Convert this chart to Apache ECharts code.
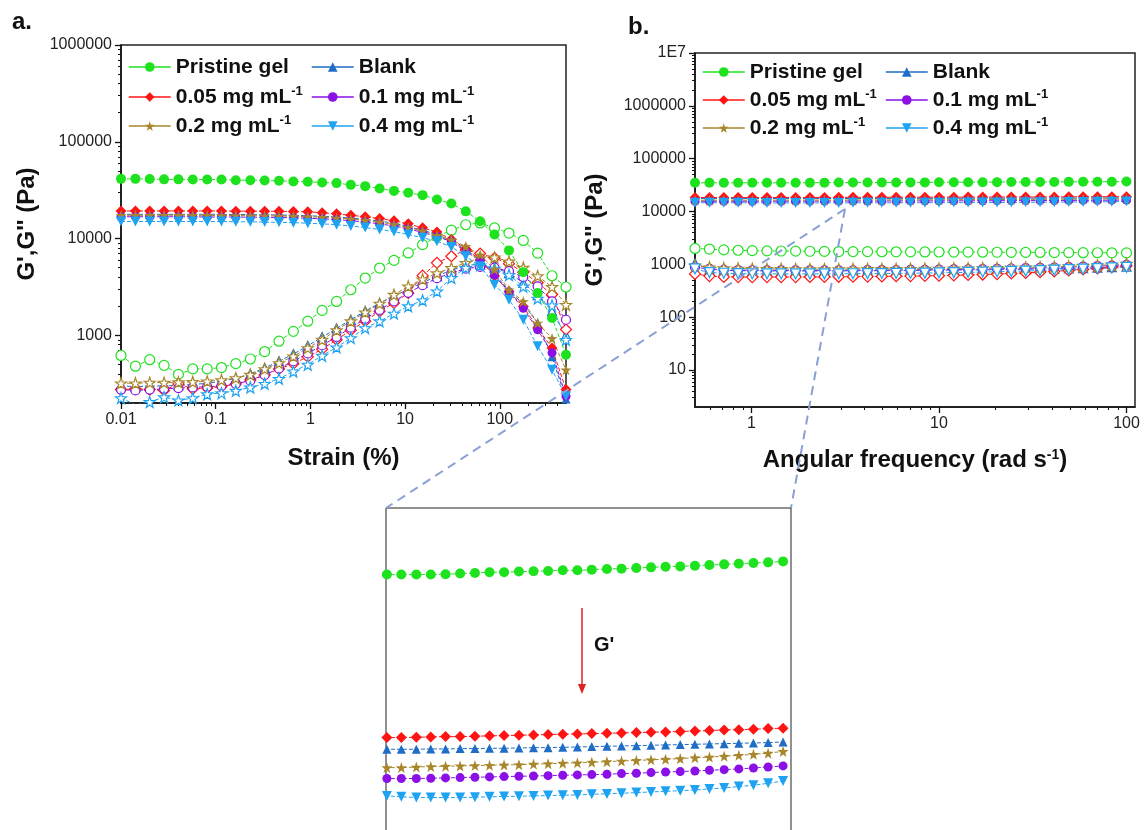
<!DOCTYPE html>
<html>
<head>
<meta charset="utf-8">
<script src="https://cdn.jsdelivr.net/npm/echarts@6/dist/echarts.min.js"></script>
<style>
  html, body { margin: 0; padding: 0; background: #fff; }
  #chart { width: 1144px; height: 830px; }
</style>
</head>
<body>
<div id="chart"></div>
<script>
// ---------- data ----------
const sampleNames = ['Pristine gel', 'Blank', '0.05 mg mL-1', '0.1 mg mL-1', '0.2 mg mL-1', '0.4 mg mL-1'];

// amplitude sweep: strain (%)
const strainPct = [0.01, 0.0142, 0.0201, 0.0285, 0.0404, 0.0573, 0.0813, 0.115, 0.163, 0.232, 0.329, 0.466, 0.661, 0.938, 1.33, 1.89,
  2.67, 3.79, 5.38, 7.63, 10.8, 15.3, 21.7, 30.8, 43.7, 62.0, 87.9, 125, 177, 251, 356, 500];

// storage modulus G' (Pa) vs strain
const strainGpPristine = [41400, 41400, 41200, 40900, 40900, 40800, 40700, 40700, 40100, 40100, 39800, 39500, 38900, 38600, 38000, 37400,
  35900, 34800, 32900, 31100, 29700, 28100, 25300, 23000, 19100, 15100, 11000, 7550, 4500, 2740, 1510, 630];
const strainGpBlank = [17800, 17800, 17800, 17800, 17800, 17800, 17800, 17800, 17700, 17700, 17600, 17500, 17400, 17200, 17000, 16700,
  16300, 15800, 15200, 14400, 13300, 12200, 11000, 9500, 7600, 6100, 4300, 2900, 2100, 1350, 600, 220];
const strainGpC005 = [19300, 19300, 19300, 19300, 19300, 19300, 19300, 19300, 19200, 19200, 19200, 19100, 19000, 18900, 18500, 18000,
  17400, 16800, 16100, 15300, 14200, 12900, 11700, 9800, 7900, 6000, 4100, 2840, 1990, 1190, 740, 275];
const strainGpC01 = [16800, 16800, 16800, 16800, 16800, 16800, 16700, 16700, 16700, 16600, 16600, 16500, 16400, 16200, 16000, 15700,
  15300, 14800, 14200, 13500, 12600, 11600, 10500, 9300, 7400, 5900, 4200, 2800, 1900, 1140, 660, 235];
const strainGpC02 = [17400, 17400, 17400, 17400, 17400, 17400, 17400, 17300, 17300, 17200, 17200, 17100, 17000, 16800, 16600, 16300,
  15900, 15400, 14800, 14000, 13000, 12000, 10800, 9700, 8300, 6800, 4800, 2950, 2240, 1340, 930, 440];
const strainGpC04 = [15000, 15000, 15000, 15000, 15000, 15000, 15000, 15000, 14900, 14900, 14800, 14700, 14600, 14400, 14200, 13900,
  13500, 13000, 12400, 11800, 11000, 10200, 9400, 8200, 6560, 5180, 3340, 2330, 1450, 770, 440, 235];

// loss modulus G'' (Pa) vs strain
const strainGppPristine = [620, 480, 560, 490, 395, 450, 450, 465, 510, 570, 680, 870, 1100, 1400, 1810, 2240,
  2960, 3910, 4960, 5950, 7100, 8650, 10500, 12200, 13900, 14500, 12900, 11400, 9560, 7080, 4130, 3160];
const strainGppBlank = [300, 295, 300, 300, 305, 310, 320, 335, 360, 400, 460, 540, 640, 780, 960, 1180,
  1450, 1780, 2150, 2550, 3000, 3500, 4100, 4700, 5300, 5400, 5000, 4400, 3500, 2600, 1780, 1000];
const strainGppC005 = [275, 280, 275, 270, 315, 280, 285, 295, 315, 345, 390, 450, 510, 600, 720, 900,
  1130, 1400, 1770, 2160, 2740, 4140, 5610, 6570, 7600, 7000, 6300, 5500, 4500, 3500, 2640, 1150];
const strainGppC01 = [275, 270, 275, 280, 285, 290, 295, 300, 315, 340, 390, 455, 540, 650, 790, 960,
  1200, 1480, 1830, 2250, 2750, 3300, 3900, 4400, 4900, 5100, 5000, 4600, 4000, 3200, 2240, 1450];
const strainGppC02 = [320, 320, 325, 325, 328, 330, 335, 345, 362, 392, 449, 518, 607, 740, 902, 1130,
  1400, 1730, 2130, 2630, 3210, 3800, 4400, 4980, 5610, 6300, 6400, 5800, 5000, 4100, 3170, 2070];
const strainGppC04 = [225, 192, 205, 230, 213, 225, 247, 253, 268, 290, 316, 356, 424, 498, 617, 752,
  938, 1190, 1400, 1680, 2000, 2300, 2850, 3920, 4980, 5300, 4900, 4200, 3200, 2400, 2040, 900];

// frequency sweep: angular frequency (rad/s)
const freqRad = [0.5, 0.597, 0.712, 0.849, 1.01, 1.21, 1.44, 1.72, 2.05, 2.45, 2.92, 3.48, 4.16, 4.96, 5.91, 7.05,
  8.41, 10.0, 12.0, 14.3, 17.1, 20.4, 24.3, 29.0, 34.6, 41.2, 49.2, 58.7, 70.0, 83.5, 100];

// G' (Pa) vs frequency
const freqGpPristine = [34950, 35000, 35000, 35000, 35000, 35000, 35000, 35050, 35140, 35230, 35320, 35320, 35420, 35460, 35510, 35600,
  35600, 35690, 35780, 35830, 35920, 36010, 36110, 36150, 36250, 36350, 36440, 36540, 36640, 36730, 36870];
const freqGpBlank = [17570, 17580, 17585, 17585, 17585, 17585, 17608, 17608, 17631, 17631, 17654, 17654, 17677, 17700, 17700, 17724,
  17747, 17770, 17793, 17817, 17840, 17864, 17887, 17911, 17934, 17958, 17981, 18005, 18029, 18053, 18100];
const freqGpC005 = [18400, 18400, 18410, 18415, 18415, 18440, 18460, 18485, 18485, 18510, 18540, 18560, 18585, 18610, 18635, 18660,
  18680, 18705, 18730, 18755, 18780, 18805, 18830, 18855, 18905, 18930, 18980, 19000, 19030, 19080, 19105];
const freqGpC01 = [15650, 15660, 15670, 15670, 15670, 15670, 15690, 15710, 15730, 15750, 15770, 15790, 15810, 15830, 15850, 15875,
  15895, 15915, 15935, 15980, 16000, 16040, 16080, 16105, 16145, 16190, 16230, 16275, 16335, 16400, 16470];
const freqGpC02 = [16340, 16350, 16360, 16360, 16360, 16395, 16430, 16450, 16470, 16490, 16510, 16530, 16550, 16590, 16610, 16650,
  16670, 16710, 16750, 16790, 16830, 16870, 16910, 16950, 17010, 17050, 17110, 17175, 17240, 17320, 17440];
const freqGpC04 = [14700, 14670, 14650, 14635, 14580, 14540, 14540, 14540, 14540, 14560, 14580, 14600, 14615, 14635, 14655, 14675,
  14690, 14730, 14750, 14785, 14825, 14865, 14900, 14940, 14980, 15040, 15100, 15180, 15260, 15380, 15520];

// G'' (Pa) vs frequency
const freqGppPristine = [2000, 1950, 1880, 1850, 1820, 1800, 1790, 1780, 1770, 1760, 1750, 1745, 1740, 1735, 1730, 1725,
  1720, 1715, 1710, 1705, 1700, 1695, 1690, 1685, 1680, 1675, 1670, 1665, 1660, 1655, 1650];
const freqGppBlank = [1050, 800, 770, 760, 755, 752, 750, 750, 750, 752, 754, 756, 758, 760, 763, 766,
  770, 774, 778, 783, 788, 794, 800, 808, 816, 826, 838, 852, 868, 886, 905];
const freqGppC005 = [660, 600, 580, 575, 575, 575, 575, 575, 578, 580, 582, 585, 588, 592, 596, 600,
  606, 612, 620, 630, 642, 656, 672, 690, 712, 738, 768, 802, 840, 885, 940];
const freqGppC01 = [880, 820, 790, 780, 775, 772, 770, 770, 770, 771, 772, 774, 776, 779, 782, 786,
  790, 795, 801, 808, 816, 825, 835, 846, 858, 872, 888, 906, 926, 950, 980];
const freqGppC02 = [950, 880, 850, 835, 825, 820, 818, 816, 815, 815, 816, 817, 818, 820, 823, 826,
  830, 834, 839, 845, 852, 860, 869, 879, 890, 903, 918, 935, 955, 985, 1030];
const freqGppC04 = [820, 700, 680, 670, 665, 662, 660, 660, 660, 661, 663, 665, 668, 671, 675, 680,
  685, 691, 698, 706, 715, 725, 736, 748, 762, 778, 795, 814, 834, 855, 880];

// labelled (major) tick values
const strainTicks = [0.01, 0.1, 1, 10, 100];
const freqTicks = [1, 10, 100];
const modulusTicksA = [1000, 10000, 100000, 1000000];
const modulusTicksB = [10, 100, 1000, 10000, 100000, 1000000, 10000000];

// ---------- styling ----------
const FONT = '"Liberation Sans", Arial, Helvetica, sans-serif';
const STAR = 'path://M0,-10L2.35,-3.24L9.51,-3.09L3.8,1.24L5.88,8.09L0,4L-5.88,8.09L-3.8,1.24L-9.51,-3.09L-2.35,-3.24Z';
const colors = {
  'Pristine gel': '#1fe21f',
  'Blank': '#1f6dc4',
  '0.05 mg mL-1': '#ff1414',
  '0.1 mg mL-1': '#8a10e6',
  '0.2 mg mL-1': '#a8872c',
  '0.4 mg mL-1': '#1ea3f2'
};
const filledShape = {
  'Pristine gel': {symbol: 'circle', size: 10},
  'Blank': {symbol: 'triangle', size: 9},
  '0.05 mg mL-1': {symbol: 'diamond', size: 11},
  '0.1 mg mL-1': {symbol: 'circle', size: 9},
  '0.2 mg mL-1': {symbol: STAR, size: 11},
  '0.4 mg mL-1': {symbol: 'triangle', size: 10, rotate: 180}
};
const hollowShapeStrain = {
  'Pristine gel': {symbol: 'circle', size: 10},
  'Blank': {symbol: 'triangle', size: 9},
  '0.05 mg mL-1': {symbol: 'diamond', size: 11},
  '0.1 mg mL-1': {symbol: 'circle', size: 9},
  '0.2 mg mL-1': {symbol: STAR, size: 11},
  '0.4 mg mL-1': {symbol: STAR, size: 11}
};
const hollowShapeFreq = {
  'Pristine gel': {symbol: 'circle', size: 10},
  'Blank': {symbol: 'triangle', size: 9},
  '0.05 mg mL-1': {symbol: 'diamond', size: 11},
  '0.1 mg mL-1': {symbol: 'circle', size: 9},
  '0.2 mg mL-1': {symbol: STAR, size: 11},
  '0.4 mg mL-1': {symbol: 'triangle', size: 10, rotate: 180}
};

const strainGp = [strainGpPristine, strainGpBlank, strainGpC005, strainGpC01, strainGpC02, strainGpC04];
const strainGpp = [strainGppPristine, strainGppBlank, strainGppC005, strainGppC01, strainGppC02, strainGppC04];
const freqGp = [freqGpPristine, freqGpBlank, freqGpC005, freqGpC01, freqGpC02, freqGpC04];
const freqGpp = [freqGppPristine, freqGppBlank, freqGppC005, freqGppC01, freqGppC02, freqGppC04];

function curve(sample, seriesName, xs, ys, axisIndex, shape, hollow) {
  const c = colors[sample];
  return {
    type: 'line',
    name: seriesName,
    xAxisIndex: axisIndex,
    yAxisIndex: axisIndex,
    data: xs.map((x, i) => [x, ys[i]]),
    symbol: shape.symbol,
    symbolSize: shape.size,
    symbolRotate: shape.rotate || 0,
    showAllSymbol: true,
    lineStyle: {color: c, width: 1, type: [4, 2]},
    itemStyle: hollow
      ? {color: '#ffffff', borderColor: c, borderWidth: 1.2}
      : {color: c, borderWidth: 0},
    emphasis: {disabled: true},
    silent: true,
    animation: false
  };
}

const series = [];
// strain sweep: G'' first so the filled G' markers sit on top
sampleNames.forEach((s, k) => series.push(curve(s, s + ' G\u2033 strain', strainPct, strainGpp[k], 0, hollowShapeStrain[s], true)));
sampleNames.forEach((s, k) => series.push(curve(s, s, strainPct, strainGp[k], 0, filledShape[s], false)));
// frequency sweep
sampleNames.forEach((s, k) => series.push(curve(s, s + ' G\u2033 freq', freqRad, freqGpp[k], 2, hollowShapeFreq[s], true)));
sampleNames.forEach((s, k) => series.push(curve(s, s, freqRad, freqGp[k], 2, filledShape[s], false)));
// magnified view of G' from the frequency sweep
sampleNames.forEach((s, k) => series.push(curve(s, s + ' G\u2032 detail', freqRad, freqGp[k], 4, filledShape[s], false)));

function minorLogTicks(lo, hi) {
  const out = [];
  for (let e = Math.floor(Math.log10(lo)); e <= Math.ceil(Math.log10(hi)); e++) {
    for (let m = 2; m <= 9; m++) {
      const v = +(m * Math.pow(10, e)).toPrecision(6);
      if (v > lo && v < hi) out.push(v);
    }
  }
  return out;
}

const fmtTick = v => (v >= 1e7 ? '1E7' : String(+Number(v).toPrecision(6)));
const tickLabel = {fontFamily: FONT, fontSize: 16, color: '#222', margin: 9};
const axisLineStyle = {color: '#111', width: 1.5};
const nameStyle = {
  fontFamily: FONT, fontSize: 24, fontWeight: 'bold', color: '#111',
  rich: {s: {fontFamily: FONT, fontSize: 14, fontWeight: 'bold', color: '#111', verticalAlign: 'top', lineHeight: 14}}
};

function majorAxis(grid, pos, min, max, ticks, extra) {
  return Object.assign({
    type: 'log', gridIndex: grid, position: pos, min: min, max: max, logBase: 10,
    axisLine: {show: true, lineStyle: axisLineStyle},
    axisTick: {show: true, inside: false, length: 6, lineStyle: {color: '#111', width: 1.3}, customValues: ticks},
    axisLabel: Object.assign({customValues: ticks, formatter: fmtTick, showMinLabel: true, showMaxLabel: true}, tickLabel),
    splitLine: {show: false},
    minorTick: {show: false},
    nameMoveOverlap: false,
    silent: true
  }, extra || {});
}
function minorAxis(grid, pos, min, max) {
  return {
    type: 'log', gridIndex: grid, position: pos, min: min, max: max, logBase: 10,
    axisLine: {show: false},
    axisTick: {show: true, inside: false, length: 3, lineStyle: {color: '#111', width: 1}, customValues: minorLogTicks(min, max)},
    axisLabel: {show: false},
    splitLine: {show: false},
    silent: true
  };
}
function hiddenAxis(grid, min, max) {
  return {type: 'log', gridIndex: grid, min: min, max: max, logBase: 10, show: false,
    axisLine: {show: false}, axisTick: {show: false}, axisLabel: {show: false}, splitLine: {show: false}};
}

const xAxis = [
  majorAxis(0, 'bottom', 0.01, 500, strainTicks, {
    name: 'Strain (%)', nameLocation: 'middle', nameGap: 43, nameTextStyle: nameStyle
  }),
  minorAxis(0, 'bottom', 0.01, 500),
  majorAxis(1, 'bottom', 0.5, 111, freqTicks, {
    name: 'Angular frequency (rad s{s|-1})', nameLocation: 'middle', nameGap: 41, nameTextStyle: nameStyle
  }),
  minorAxis(1, 'bottom', 0.5, 111),
  hiddenAxis(2, 0.84, 110)
];
const yAxis = [
  majorAxis(0, 'left', 200, 1000000, modulusTicksA, {
    name: "G',G'' (Pa)", nameLocation: 'middle', nameGap: 82, nameRotate: 90, nameTextStyle: nameStyle
  }),
  minorAxis(0, 'left', 200, 1000000),
  majorAxis(1, 'left', 2, 10000000, modulusTicksB, {
    name: "G',G'' (Pa)", nameLocation: 'middle', nameGap: 88, nameRotate: 90, nameTextStyle: nameStyle
  }),
  minorAxis(1, 'left', 2, 10000000),
  hiddenAxis(2, 12300, 45500)
];

// two-column legends for each panel
const legendSlots = [
  {name: 'Pristine gel', left: 128, top: 55}, {name: 'Blank', left: 311, top: 55},
  {name: '0.05 mg mL-1', left: 128, top: 85}, {name: '0.1 mg mL-1', left: 311, top: 85},
  {name: '0.2 mg mL-1', left: 128, top: 114}, {name: '0.4 mg mL-1', left: 311, top: 114},
  {name: 'Pristine gel', left: 702, top: 60}, {name: 'Blank', left: 885, top: 60},
  {name: '0.05 mg mL-1', left: 702, top: 88}, {name: '0.1 mg mL-1', left: 885, top: 88},
  {name: '0.2 mg mL-1', left: 702, top: 116}, {name: '0.4 mg mL-1', left: 885, top: 116}
];
const legend = legendSlots.map(slot => ({
  data: [slot.name],
  left: slot.left, top: slot.top,
  orient: 'horizontal', padding: 0, itemGap: 0,
  itemWidth: 42, itemHeight: 12,
  selectedMode: false,
  lineStyle: {type: 'solid', width: 1.5},
  formatter: n => n.replace('mL-1', 'mL{s|-1}'),
  textStyle: {
    fontFamily: FONT, fontSize: 21, fontWeight: 'bold', color: '#111', lineHeight: 24,
    rich: {s: {fontFamily: FONT, fontSize: 13, fontWeight: 'bold', color: '#111', verticalAlign: 'top', lineHeight: 13}}
  }
}));

const option = {
  animation: false,
  backgroundColor: '#ffffff',
  textStyle: {fontFamily: FONT},
  grid: [
    {left: 121, top: 45, width: 445, height: 358, show: true, borderColor: '#222', borderWidth: 1.5, outerBoundsMode: 'none', containLabel: false},
    {left: 695, top: 53, width: 440, height: 354, show: true, borderColor: '#222', borderWidth: 1.5, outerBoundsMode: 'none', containLabel: false},
    {left: 386, top: 508, width: 405, height: 332, show: true, borderColor: '#222', borderWidth: 1, outerBoundsMode: 'none', containLabel: false}
  ],
  xAxis: xAxis,
  yAxis: yAxis,
  legend: legend,
  series: series,
  graphic: [
    {type: 'text', left: 12, top: 10, style: {text: 'a.', font: 'bold 24px ' + FONT, fill: '#111'}},
    {type: 'text', left: 628, top: 15, style: {text: 'b.', font: 'bold 24px ' + FONT, fill: '#111'}},
    // connectors from the frequency panel to the magnified view
    {type: 'line', z: 100, shape: {x1: 845, y1: 209, x2: 386, y2: 508}, style: {stroke: '#8aa0d4', lineWidth: 2, lineDash: [9, 6]}},
    {type: 'line', z: 100, shape: {x1: 845, y1: 209, x2: 791, y2: 508}, style: {stroke: '#8aa0d4', lineWidth: 2, lineDash: [9, 6]}},
    // downward arrow marking the drop of G'
    {type: 'line', z: 100, shape: {x1: 582, y1: 608, x2: 582, y2: 686}, style: {stroke: '#e0201e', lineWidth: 1.5}},
    {type: 'polygon', z: 100, shape: {points: [[578, 684], [586, 684], [582, 694]]}, style: {fill: '#e0201e'}},
    {type: 'text', z: 100, x: 594, y: 645, style: {text: "G'", font: 'bold 20px ' + FONT, fill: '#111', verticalAlign: 'middle'}}
  ]
};

const chart = echarts.init(document.getElementById('chart'), null, {renderer: 'canvas', width: 1144, height: 830});
chart.setOption(option);
</script>
</body>
</html>
